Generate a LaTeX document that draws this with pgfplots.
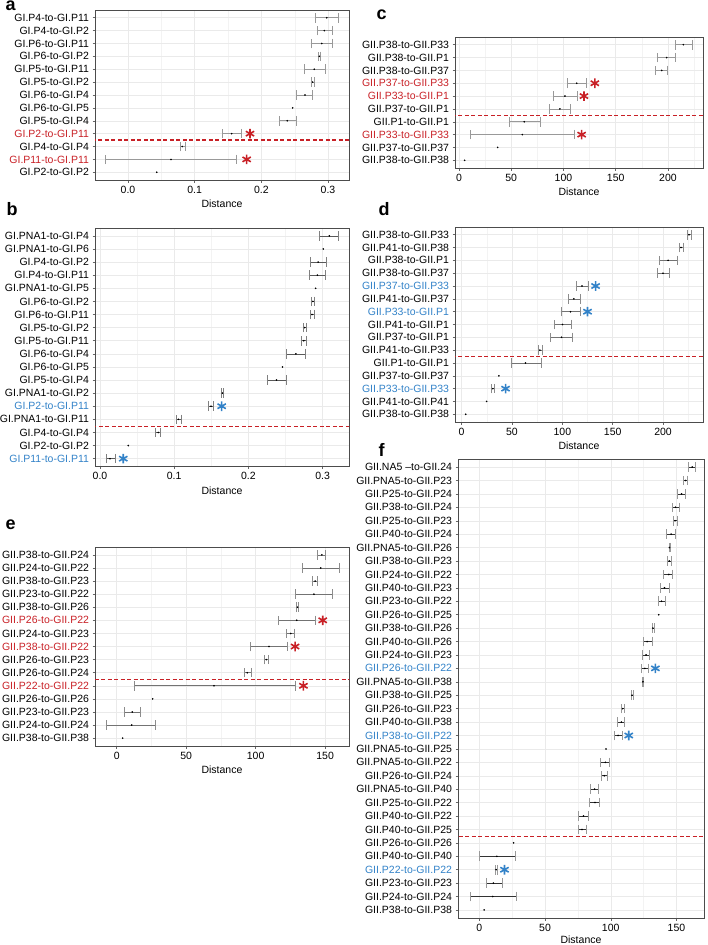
\documentclass[border=0pt]{standalone}
\usepackage{fontspec}
\setmainfont{Liberation Sans}
\usepackage{pgfplots}
\usepackage{pgfplotstable}
\pgfplotsset{compat=1.18}

\definecolor{sigred}{RGB}{200,32,38}
\definecolor{sigblue}{RGB}{50,130,200}
\definecolor{gridc}{RGB}{234,234,234}
\newcommand{\R}[1]{\textcolor{sigred}{#1}}
\newcommand{\B}[1]{\textcolor{sigblue}{#1}}

\pgfplotsset{
  panel/.style={
    scale only axis, anchor=north west, y dir=reverse,
    axis line style={draw=black!70, line width=0.7pt},
    xmajorgrids, ymajorgrids, xminorgrids,
    major grid style={gridc, line width=0.5pt},
    minor grid style={gridc!60!white, line width=0.35pt},
    tick style={black!60, line width=0.5pt},
    major tick length=2.5pt, minor tick length=0pt,
    tick align=outside, xtick pos=lower, ytick pos=left,
    ticklabel style={font=\fontsize{10.5}{12}\selectfont},
    label style={font=\fontsize{10.5}{12}\selectfont},
    xlabel={Distance},
    /pgf/number format/assume math mode=true,
  },
  bars/.style 2 args={draw=none, mark=none,
    restrict expr to domain={\thisrow{hi}-\thisrow{lo}}{0.000001:100000},
    error bars/.cd, x dir=both, x explicit, error mark=|,
    error bar style={draw=#1, line width=0.6pt},
    error mark options={draw=#2, line width=0.6pt, mark size=4.8pt}},
  dots/.style={only marks, mark=*, mark size=0.6pt, black},
  stars/.style={only marks, mark=asterisk, #1, mark size=4.8pt,
    mark options={line width=1.6pt}},
  cutline/.style={draw=sigred, dash pattern=on 4pt off 2.5pt, line width=1.2pt, forget plot},
}
% red dashed separator: y position, x from, x to (outside the limits, clipped)
\newcommand{\cut}[3]{\addplot[cutline] coordinates {(#2,#1) (#3,#1)};}

% row mid lo hi
\pgfplotstableread{
row mid lo hi
1 0.298 0.2805 0.3155
2 0.2945 0.284 0.3065
3 0.2905 0.2745 0.307
4 0.287 0.2855 0.289
5 0.2795 0.264 0.2955
6 0.277 0.2755 0.279
7 0.2655 0.253 0.277
8 0.247 0.247 0.247
9 0.239 0.227 0.252
10 0.1555 0.1415 0.1705
11 0.0815 0.078 0.0855
12 0.0645 -0.034 0.163
13 0.043 0.043 0.043
}\tabA

\pgfplotstableread{
row mid lo hi
1 0.309 0.2956 0.3213
2 0.301 0.301 0.301
3 0.294 0.284 0.3055
4 0.293 0.282 0.303
5 0.2906 0.2906 0.2906
6 0.287 0.2853 0.2888
7 0.2857 0.283 0.2884
8 0.2758 0.274 0.2776
9 0.2747 0.2718 0.2776
10 0.264 0.2516 0.2763
11 0.246 0.246 0.246
12 0.238 0.226 0.2507
13 0.165 0.164 0.166
14 0.1496 0.146 0.1527
15 0.1057 0.1024 0.109
16 0.0785 0.075 0.0818
17 0.0382 0.0382 0.0382
18 0.0135 0.0081 0.0202
}\tabB

\pgfplotstableread{
row mid lo hi
1 214.7 206.7 223.3
2 198.7 190.1 206.7
3 194 188.2 199.3
4 112.6 103.3 122.2
5 101.4 90.3 113.2
6 96.6 86.4 106.5
7 62.5 48.5 77.5
8 60.6 10.5 110
9 37 37 37
10 5.4 5.4 5.4
}\tabC

\pgfplotstableread{
row mid lo hi
1 225.8 224.2 228.2
2 217.9 215.9 219.8
3 205 196 213.9
4 200 194.4 206.6
5 119.6 114.1 125.6
6 111.4 105.8 117.4
7 108.1 99.2 117.4
8 100.2 91.6 109.1
9 99.2 88.3 109.8
10 77.7 76 80
11 63.5 48.9 79.4
12 37 37 37
13 31 29.8 32
14 24.8 24.8 24.8
15 4 4 4
}\tabD

\pgfplotstableread{
row mid lo hi
1 147.6 144.4 150
2 146.9 133.6 160
3 142.8 140.8 144.4
4 142 128.9 155.2
5 130.2 129.6 130.8
6 129.6 116.4 142.8
7 125.3 122.4 127.9
8 109.6 96.5 122.8
9 107.7 106.3 109.2
10 94 91.6 96.7
11 70 12.5 128.4
12 25.9 25.9 25.9
13 11.2 5.3 16.8
14 10.8 -7.2 28.1
15 4.3 4.3 4.3
}\tabE

\pgfplotstableread{
row mid lo hi
1 162 159.4 164.5
2 156.9 155.6 158.6
3 153.9 151 156.9
4 149.3 146.8 152.3
5 149 147.5 150.6
6 146 142.2 149.3
7 144.7 144.4 145
8 144.5 142.9 146.2
9 144.2 139.9 147.2
10 140.9 137.8 144.2
11 138.6 136.1 141.6
12 136.5 136.5 136.5
13 132.1 131.5 132.8
14 127.7 125.1 131.5
15 126.9 123.9 129.7
16 125.9 123.1 128.9
17 124.5 123.9 125.1
18 116.2 115.8 116.8
19 109.1 107.8 110.6
20 108.1 105.3 110.6
21 105.6 103 109.1
22 96.4 96.4 96.4
23 95.9 92.1 99.2
24 95.1 92.6 97.6
25 87.7 84.4 90.8
26 88 83.9 91.5
27 79.3 75.5 83.1
28 78.1 75 81.4
29 26 26 26
30 13.3 -0.2 27.2
31 12.7 12 13.7
32 10.7 4.9 17.1
33 10.2 -7.1 28
34 3.6 3.6 3.6
}\tabF

\begin{document}
\begin{tikzpicture}
\path[use as bounding box] (0pt,0pt) rectangle (708pt,-945pt);
\tikzset{lett/.style={anchor=base west, font=\fontsize{18}{18}\selectfont\bfseries}}

% a
\node[lett] at (2pt,-10pt) {a};
\begin{axis}[panel, at={(95pt,-10pt)}, width=254pt, height=170pt,
  xmin=-0.0495, xmax=0.3315, ymin=0.4, ymax=13.6,
  xtick={0,0.1,0.2,0.3}, xticklabels={0.0,0.1,0.2,0.3},
  minor xtick={0.05,0.15,0.25},
  ytick={1,...,13},
  yticklabels={GI.P4-to-GI.P11, GI.P4-to-GI.P2, GI.P6-to-GI.P11, GI.P6-to-GI.P2,
    GI.P5-to-GI.P11, GI.P5-to-GI.P2, GI.P6-to-GI.P4, GI.P6-to-GI.P5, GI.P5-to-GI.P4,
    \R{GI.P2-to-GI.P11}, GI.P4-to-GI.P4, \R{GI.P11-to-GI.P11}, GI.P2-to-GI.P2}]
\addplot[bars={black!40}{black!40}] table[x=mid, y=row,
  x error plus expr=\thisrow{hi}-\thisrow{mid},
  x error minus expr=\thisrow{mid}-\thisrow{lo}] {\tabA};
\addplot[dots] table[x=mid, y=row] {\tabA};
\cut{10.5}{-1}{1}
\addplot[stars=sigred] coordinates {(0.183,10) (0.178,12)};
\end{axis}

% b
\node[lett] at (3pt,-215pt) {b};
\begin{axis}[panel, at={(95pt,-228pt)}, width=254pt, height=238.5pt,
  xmin=-0.0067, xmax=0.3356, ymin=0.4, ymax=18.6,
  xtick={0,0.1,0.2,0.3}, xticklabels={0.0,0.1,0.2,0.3},
  minor xtick={0.05,0.15,0.25},
  ytick={1,...,18},
  yticklabels={GI.PNA1-to-GI.P4, GI.PNA1-to-GI.P6, GI.P4-to-GI.P2, GI.P4-to-GI.P11,
    GI.PNA1-to-GI.P5, GI.P6-to-GI.P2, GI.P6-to-GI.P11, GI.P5-to-GI.P2, GI.P5-to-GI.P11,
    GI.P6-to-GI.P4, GI.P6-to-GI.P5, GI.P5-to-GI.P4, GI.PNA1-to-GI.P2, \B{GI.P2-to-GI.P11},
    GI.PNA1-to-GI.P11, GI.P4-to-GI.P4, GI.P2-to-GI.P2, \B{GI.P11-to-GI.P11}}]
\addplot[bars={black!65}{black!50}] table[x=mid, y=row,
  x error plus expr=\thisrow{hi}-\thisrow{mid},
  x error minus expr=\thisrow{mid}-\thisrow{lo}] {\tabB};
\addplot[dots] table[x=mid, y=row] {\tabB};
\cut{15.52}{-1}{1}
\addplot[stars=sigblue] coordinates {(0.164,14) (0.0314,18)};
\end{axis}

% e
\node[lett] at (2pt,-529pt) {e};
\begin{axis}[panel, at={(95pt,-547pt)}, width=254pt, height=199pt,
  xmin=-15.6, xmax=167.2, ymin=0.4, ymax=15.6,
  xtick={0,50,100,150}, minor xtick={25,75,125},
  ytick={1,...,15},
  yticklabels={GII.P38-to-GII.P24, GII.P24-to-GII.P22, GII.P38-to-GII.P23, GII.P23-to-GII.P22,
    GII.P38-to-GII.P26, \R{GII.P26-to-GII.P22}, GII.P24-to-GII.P23, \R{GII.P38-to-GII.P22},
    GII.P26-to-GII.P23, GII.P26-to-GII.P24, \R{GII.P22-to-GII.P22}, GII.P26-to-GII.P26,
    GII.P23-to-GII.P23, GII.P24-to-GII.P24, GII.P38-to-GII.P38}]
\addplot[bars={black!55}{black!45}] table[x=mid, y=row,
  x error plus expr=\thisrow{hi}-\thisrow{mid},
  x error minus expr=\thisrow{mid}-\thisrow{lo}] {\tabE};
\addplot[dots] table[x=mid, y=row] {\tabE};
\cut{10.5}{-100}{300}
\addplot[stars=sigred] coordinates {(148.3,6) (128.4,8) (134.4,11)};
\end{axis}

% c
\node[lett] at (373pt,-19pt) {c};
\begin{axis}[panel, at={(455pt,-37pt)}, width=248pt, height=131pt,
  xmin=-3.8, xmax=233.5, ymin=0.4, ymax=10.6,
  xtick={0,50,100,150,200}, minor xtick={25,75,125,175,225},
  ytick={1,...,10},
  yticklabels={GII.P38-to-GII.P33, GII.P38-to-GII.P1, GII.P38-to-GII.P37,
    \R{GII.P37-to-GII.P33}, \R{GII.P33-to-GII.P1}, GII.P37-to-GII.P1, GII.P1-to-GII.P1,
    \R{GII.P33-to-GII.P33}, GII.P37-to-GII.P37, GII.P38-to-GII.P38}]
\addplot[bars={black!40}{black!40}] table[x=mid, y=row,
  x error plus expr=\thisrow{hi}-\thisrow{mid},
  x error minus expr=\thisrow{mid}-\thisrow{lo}] {\tabC};
\addplot[dots] table[x=mid, y=row] {\tabC};
\cut{6.54}{-100}{300}
\addplot[stars=sigred] coordinates {(130,4) (119.6,5) (117.4,8)};
\end{axis}

% d
\node[lett] at (375pt,-215pt) {d};
\begin{axis}[panel, at={(455pt,-227pt)}, width=248pt, height=195pt,
  xmin=-6.6, xmax=239.7, ymin=0.4, ymax=15.6,
  xtick={0,50,100,150,200}, minor xtick={25,75,125,175,225},
  ytick={1,...,15},
  yticklabels={GII.P38-to-GII.P33, GII.P41-to-GII.P38, GII.P38-to-GII.P1, GII.P38-to-GII.P37,
    \B{GII.P37-to-GII.P33}, GII.P41-to-GII.P37, \B{GII.P33-to-GII.P1}, GII.P41-to-GII.P1,
    GII.P37-to-GII.P1, GII.P41-to-GII.P33, GII.P1-to-GII.P1, GII.P37-to-GII.P37,
    \B{GII.P33-to-GII.P33}, GII.P41-to-GII.P41, GII.P38-to-GII.P38}]
\addplot[bars={black!55}{black!45}] table[x=mid, y=row,
  x error plus expr=\thisrow{hi}-\thisrow{mid},
  x error minus expr=\thisrow{mid}-\thisrow{lo}] {\tabD};
\addplot[dots] table[x=mid, y=row] {\tabD};
\cut{10.5}{-100}{300}
\addplot[stars=sigblue] coordinates {(133,5) (125,7) (43.6,13)};
\end{axis}

% f
\node[lett] at (375pt,-456pt) {f};
\begin{axis}[panel, at={(458pt,-459pt)}, width=246pt, height=459pt,
  xmin=-16.3, xmax=171, ymin=0.4, ymax=34.6,
  xtick={0,50,100,150}, minor xtick={25,75,125},
  xlabel style={yshift=2pt},
  ytick={1,...,34},
  yticklabels={GII.NA5 –to-GII.24, GII.PNA5-to-GII.P23, GII.P25-to-GII.P24, GII.P38-to-GII.P24,
    GII.P25-to-GII.P23, GII.P40-to-GII.P24, GII.PNA5-to-GII.P26, GII.P38-to-GII.P23,
    GII.P24-to-GII.P22, GII.P40-to-GII.P23, GII.P23-to-GII.P22, GII.P26-to-GII.P25,
    GII.P38-to-GII.P26, GII.P40-to-GII.P26, GII.P24-to-GII.P23, \B{GII.P26-to-GII.P22},
    GII.PNA5-to-GII.P38, GII.P38-to-GII.P25, GII.P26-to-GII.P23, GII.P40-to-GII.P38,
    \B{GII.P38-to-GII.P22}, GII.PNA5-to-GII.P25, GII.PNA5-to-GII.P22, GII.P26-to-GII.P24,
    GII.PNA5-to-GII.P40, GII.P25-to-GII.P22, GII.P40-to-GII.P22, GII.P40-to-GII.P25,
    GII.P26-to-GII.P26, GII.P40-to-GII.P40, \B{GII.P22-to-GII.P22}, GII.P23-to-GII.P23,
    GII.P24-to-GII.P24, GII.P38-to-GII.P38}]
\addplot[bars={black!80}{black!40}] table[x=mid, y=row,
  x error plus expr=\thisrow{hi}-\thisrow{mid},
  x error minus expr=\thisrow{mid}-\thisrow{lo}] {\tabF};
\addplot[dots] table[x=mid, y=row] {\tabF};
\cut{28.5}{-100}{300}
\addplot[stars=sigblue] coordinates {(134,16) (113.7,21) (19.1,31)};
\end{axis}
\end{tikzpicture}
\end{document}
